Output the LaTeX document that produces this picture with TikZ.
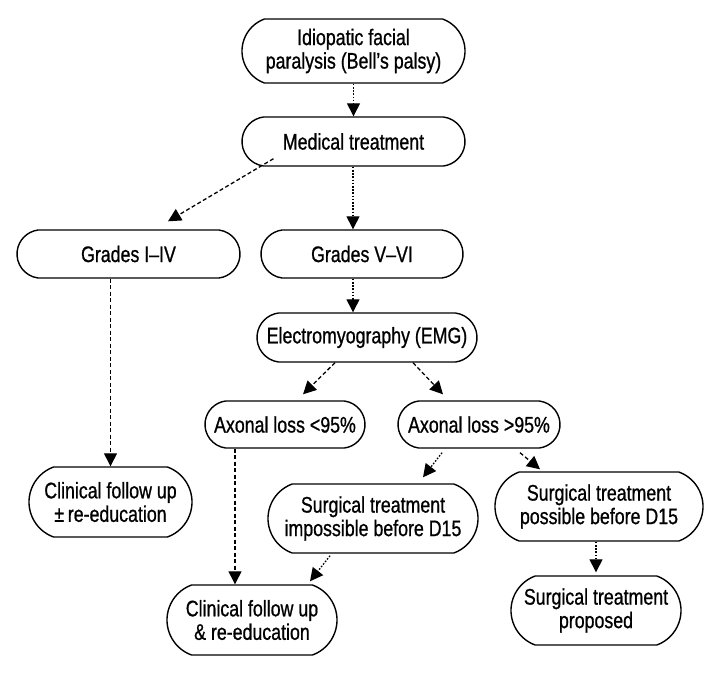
\documentclass[tikz,border=0pt]{standalone}
\usepackage{fontspec}
\setmainfont{Liberation Sans}[FakeStretch=0.79,FakeBold=0.8]
\usetikzlibrary{arrows.meta,calc,shapes.misc}
\begin{document}
\begin{tikzpicture}[x=1pt,y=-1pt,
  box/.style={draw, line width=1.4pt, align=center, inner sep=0pt,
    rounded rectangle, rounded rectangle arc length=165,
    font=\fontsize{22.5}{23.5}\selectfont},
  tall/.style={rounded rectangle arc length=140},
  conn/.style={line width=1.3pt, -{Triangle[width=13pt,length=13pt]}},
  dotline/.style={conn, dash pattern=on 1.6pt off 1.6pt},
  dashline/.style={conn, dash pattern=on 4pt off 2.5pt}
]
\useasboundingbox (0,0) rectangle (720,675);

\node[box, tall, minimum width=223pt, minimum height=64pt] (idio) at (353.5,51) {Idiopatic facial\\paralysis (Bell’s palsy)};
\node[box, minimum width=223pt, minimum height=49pt] (med) at (353.5,141.5) {Medical treatment};
\node[box, minimum width=223pt, minimum height=48pt] (g14) at (128.5,254) {Grades I–IV};
\node[box, minimum width=202pt, minimum height=48pt] (g56) at (362,254) {Grades V–VI};
\node[box, minimum width=220pt, minimum height=49pt] (emg) at (367,337.5) {Electromyography (EMG)};
\node[box, minimum width=160pt, minimum height=47pt] (ax1) at (285,424.5) {Axonal loss {\char`\<}95\%};
\node[box, minimum width=162pt, minimum height=47pt] (ax2) at (479,424.5) {Axonal loss {\char`\>}95\%};
\node[box, tall, minimum width=163pt, minimum height=70pt] (clin1) at (110.5,502) {Clinical follow up\\±\,re-education};
\node[box, tall, minimum width=210pt, minimum height=69pt] (simp) at (373,518.5) {Surgical treatment\\impossible before D15};
\node[box, tall, minimum width=208pt, minimum height=69pt] (sposs) at (599,506.5) {Surgical treatment\\possible before D15};
\node[box, tall, minimum width=170pt, minimum height=70pt] (clin2) at (252,620) {Clinical follow up\\\& re-education};
\node[box, tall, minimum width=170pt, minimum height=69pt] (sprop) at (596,610.5) {Surgical treatment\\proposed};

\draw[dotline] (idio.south) -- (med.north);
\draw[dashline] ([xshift=10pt,yshift=8pt]med.south west) -- ([xshift=39.5pt,yshift=8pt]g14.north);
\draw[dotline] ([xshift=-0.5pt]med.south) -- ([xshift=-9pt]g56.north);
\draw[dotline] ([xshift=-9pt]g56.south) -- ([xshift=-14pt]emg.north);
\draw[dashline] (g14.south -| clin1.north) -- (clin1.north);
\draw[dashline] ([xshift=-32pt]emg.south) -- ([xshift=18pt,yshift=6pt]ax1.north);
\draw[dashline] ([xshift=46pt]emg.south) -- ([xshift=-36pt,yshift=6pt]ax2.north);
\draw[dashline] ([xshift=-50pt]ax1.south) -- ([xshift=-50pt]ax1.south |- clin2.north);
\draw[dotline] ([xshift=-37pt,yshift=-4pt]ax2.south) -- ([xshift=50pt,yshift=6pt]simp.north);
\draw[dashline] ([xshift=41pt,yshift=-4pt]ax2.south) -- ([xshift=-59pt,yshift=2pt]sposs.north);
\draw[dotline] ([xshift=-43pt,yshift=-2pt]simp.south) -- ([xshift=58pt,yshift=3pt]clin2.north);
\draw[dotline] (sprop.north |- sposs.south) -- ([yshift=3pt]sprop.north);
\end{tikzpicture}
\end{document}
